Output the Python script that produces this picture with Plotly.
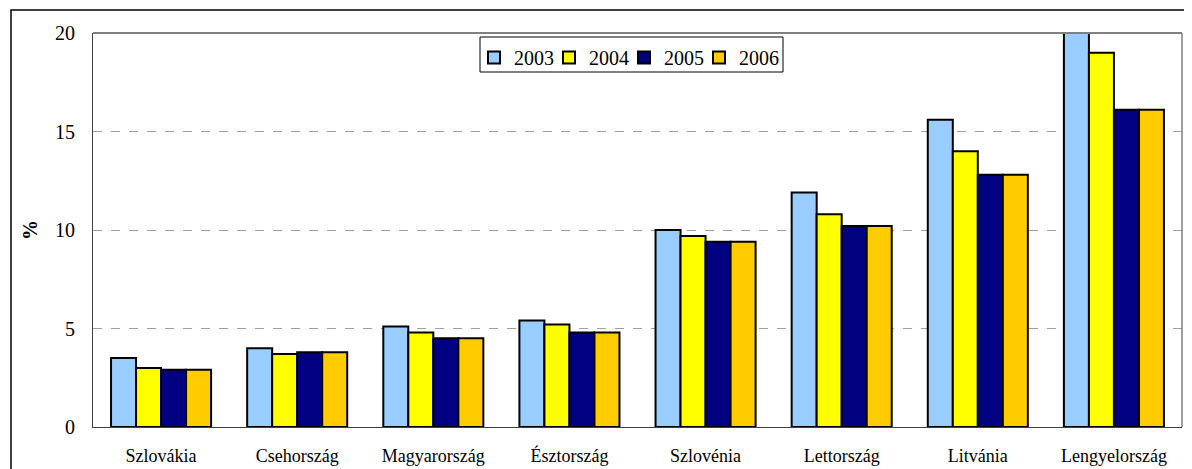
import plotly.graph_objects as go

categories = ["Szlovákia", "Csehország", "Magyarország", "Észtország",
              "Szlovénia", "Lettország", "Litvánia", "Lengyelország"]
years = ["2003", "2004", "2005", "2006"]
v2003 = [3.5, 4.0, 5.1, 5.4, 10.0, 11.9, 15.6, 20.0]
v2004 = [3.0, 3.7, 4.8, 5.2, 9.7, 10.8, 14.0, 19.0]
v2005 = [2.9, 3.8, 4.5, 4.8, 9.4, 10.2, 12.8, 16.1]
v2006 = [2.9, 3.8, 4.5, 4.8, 9.4, 10.2, 12.8, 16.1]
colors = ["#99CCFF", "#FFFF00", "#000080", "#FFCC00"]

font_family = "Times New Roman, Liberation Serif, serif"

fig = go.Figure()
for name, vals, col in zip(years, [v2003, v2004, v2005, v2006], colors):
    fig.add_trace(go.Bar(
        x=categories, y=vals, name=name,
        marker=dict(color=col, line=dict(color="black", width=2)),
    ))
# legend-only, invisible spacer so the last legend label is not clipped
fig.add_trace(go.Scatter(
    x=categories[:1], y=v2003[:1], name=" ", mode="markers",
    visible="legendonly",
    marker=dict(color="rgba(0,0,0,0)", size=1), hoverinfo="skip",
))

# page body has an 8px margin; figure is sized/offset to compensate
OFF = 8
W, H = 1184, 461
L, R, T, B = 85, 10, 25, 42
pw, ph = W - L - R, H - T - B


def px(xs):
    return (xs - OFF - L) / pw


def py(ys):
    return 1 - (ys - OFF - T) / ph


fig.update_layout(
    width=W, height=H,
    margin=dict(l=L, r=R, t=T, b=B),
    paper_bgcolor="white", plot_bgcolor="white",
    barmode="group", bargap=0.265, bargroupgap=0,
    font=dict(family=font_family, color="black"),
    showlegend=True,
    legend=dict(
        orientation="h", x=px(474), y=py(38),
        xanchor="left", yanchor="top",
        borderwidth=0, bgcolor="rgba(0,0,0,0)",
        font=dict(size=20, family=font_family), itemwidth=30,
        entrywidth=30, entrywidthmode="pixels",
        traceorder="normal", itemclick=False, itemdoubleclick=False,
    ),
    xaxis=dict(
        showgrid=False, ticks="", tickfont=dict(size=18, family=font_family),
        showline=True, linecolor="#404040", linewidth=1, mirror=False,
        ticklabelstandoff=12, automargin=False,
    ),
    yaxis=dict(
        range=[0, 20], tickvals=[0, 5, 10, 15, 20], ticks="",
        tickfont=dict(size=20, family=font_family), ticklabelstandoff=13,
        showgrid=True, gridcolor="#A0A0A0", griddash="dash", gridwidth=1,
        showline=True, linecolor="#404040", linewidth=1,
        zeroline=False, automargin=False,
    ),
    annotations=[
        dict(text="<b>%</b>", xref="paper", yref="paper",
             x=px(30), y=0.5, xanchor="center", yanchor="middle",
             textangle=-90, showarrow=False,
             font=dict(size=20, family=font_family)),
    ],
    shapes=[
        dict(type="line", xref="paper", yref="paper", x0=0, x1=1, y0=1, y1=1,
             line=dict(color="#808080", width=2)),
        dict(type="line", xref="paper", yref="paper", x0=1, x1=1, y0=0, y1=1,
             line=dict(color="#808080", width=1.5)),
        dict(type="rect", xref="paper", yref="paper",
             x0=px(11), x1=px(1190), y0=-0.2, y1=py(10),
             line=dict(color="black", width=1.5), layer="below"),
        # legend box
        dict(type="rect", xref="paper", yref="paper",
             x0=px(480), x1=px(783), y0=py(72), y1=py(37),
             line=dict(color="black", width=1), fillcolor="white",
             layer="above"),
    ],
)

fig.write_html("out.html")
